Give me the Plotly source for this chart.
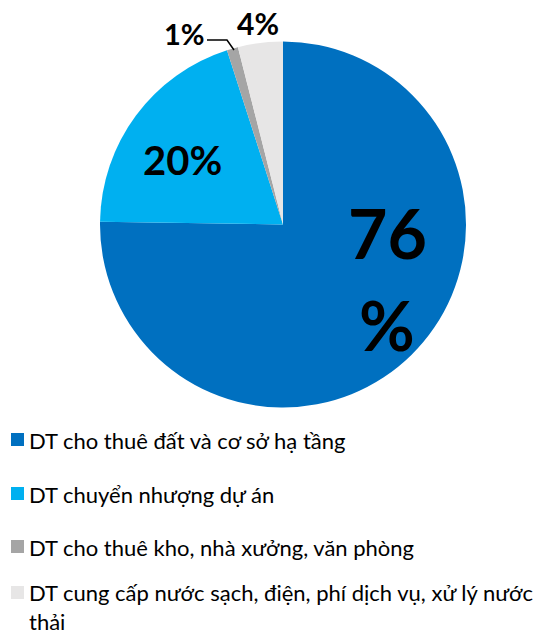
import plotly.graph_objects as go

# Revenue structure by segment (%)
categories = [
    "DT cho thuê đất và cơ sở hạ tầng",
    "DT chuyển nhượng dự án",
    "DT cho thuê kho, nhà xưởng, văn phòng",
    "DT cung cấp nước sạch, điện, phí dịch vụ, xử lý nước thải",
]
shares = [76, 20, 1, 4]
colors = ["#0070C0", "#00B0F0", "#A5A5A5", "#E7E6E6"]

W, H = 543, 635
FONT = "Lato"
LEGEND_SIZE = 22

fig = go.Figure(
    go.Pie(
        labels=categories,
        values=shares,
        sort=False,
        direction="clockwise",
        rotation=0,
        marker=dict(colors=colors, line=dict(width=0)),
        textinfo="none",
        hoverinfo="label+value",
        showlegend=False,
        domain=dict(x=[100 / W, 466 / W], y=[1 - 408 / H, 1 - 41 / H]),
    )
)


def px(x, y):
    return x / W, 1 - y / H


# Slice labels (the big one is split over two lines)
label_style = [
    dict(pos=(387, 233), size=68, text=f"{shares[0]}"),
    dict(pos=(387, 324), size=68, text="%"),
    dict(pos=(182, 160), size=40, text=f"{shares[1]}%"),
    dict(pos=(184, 34), size=29, text=f"{shares[2]}%"),
    dict(pos=(258, 23), size=30, text=f"{shares[3]}%"),
]
annotations = []
for s in label_style:
    x, y = px(*s["pos"])
    annotations.append(
        dict(
            x=x, y=y, xref="paper", yref="paper", showarrow=False,
            text=f"<b>{s['text']}</b>",
            font=dict(family=FONT, size=s["size"], color="#000000"),
            xanchor="center", yanchor="middle",
        )
    )

# Leader line for the small slice
shapes = []
x0, y0 = px(207, 40)
x1, y1 = px(227, 40)
x2, y2 = px(234, 50)
shapes.append(
    dict(type="path", xref="paper", yref="paper",
         path=f"M {x0},{y0} L {x1},{y1} L {x2},{y2}",
         line=dict(color="#000000", width=1.5))
)

# Legend drawn as squares + labels; the last label wraps onto a second line
# and sits flush with the bottom edge.
legend_y = [440, 494, 547, 593]

for i, (ly, c, t) in enumerate(zip(legend_y, colors, categories)):
    sx0, sy0 = px(11, ly - 7)
    sx1, sy1 = px(24, ly + 6)
    shapes.append(dict(type="rect", xref="paper", yref="paper",
                       x0=sx0, y0=sy1, x1=sx1, y1=sy0,
                       fillcolor=c, line=dict(width=0)))
    if i == len(categories) - 1:
        first, rest = t.rsplit(" ", 1)
        text, yy, anchor = f"{first}<br>{rest}", H, "bottom"
    else:
        text, yy, anchor = t, ly, "middle"
    lx, lyp = px(29, yy)
    annotations.append(
        dict(x=lx, y=lyp, xref="paper", yref="paper", showarrow=False,
             text=text, align="left", xanchor="left", yanchor=anchor,
             borderpad=0, borderwidth=0,
             font=dict(family=FONT, size=LEGEND_SIZE, color="#000000"))
    )

fig.update_layout(
    width=W, height=H,
    margin=dict(l=0, r=0, t=0, b=0),
    paper_bgcolor="white", plot_bgcolor="white",
    annotations=annotations, shapes=shapes,
)

fig.write_html("out.html")
